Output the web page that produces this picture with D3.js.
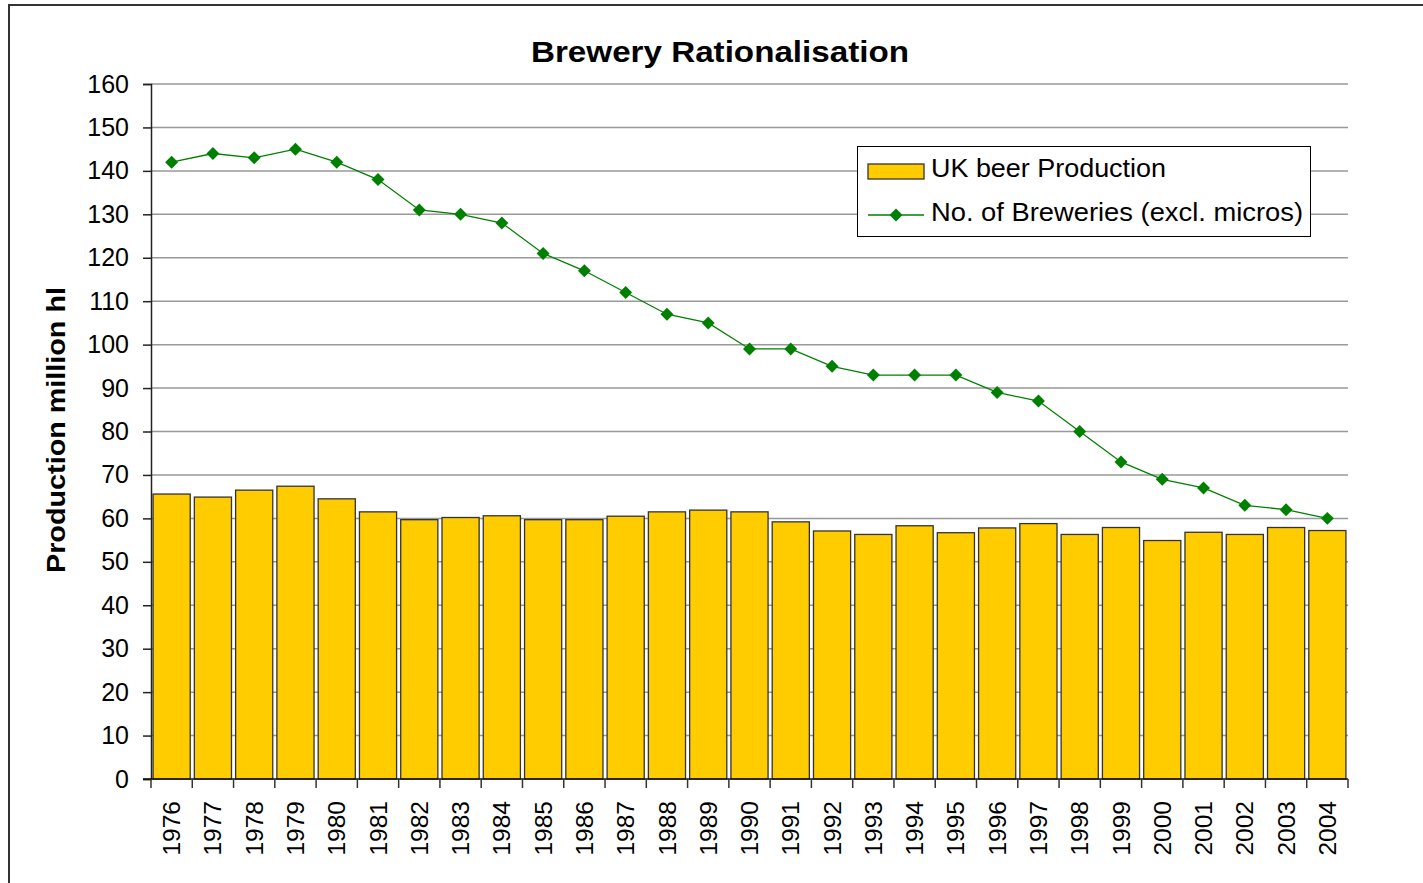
<!DOCTYPE html>
<html>
<head>
<meta charset="utf-8">
<script src="https://cdn.jsdelivr.net/npm/d3@7"></script>
<style>
  body { margin: 0; background: #fff; }
  svg { display: block; font-family: "Liberation Sans", Arial, sans-serif; }
</style>
</head>
<body>
<div id="chart"></div>
<script>
const years = ["1976","1977","1978","1979","1980","1981","1982","1983","1984","1985","1986","1987","1988","1989","1990",
  "1991","1992","1993","1994","1995","1996","1997","1998","1999","2000","2001","2002","2003","2004"];
const production = [65.6,64.9,66.5,67.4,64.5,61.5,59.7,60.2,60.6,59.7,59.7,60.5,61.5,61.9,61.5,
  59.2,57.1,56.3,58.3,56.7,57.8,58.8,56.3,57.9,54.9,56.8,56.3,57.9,57.2];
const breweries = [142,144,143,145,142,138,131,130,128,121,117,112,107,105,99,
  99,95,93,93,93,89,87,80,73,69,67,63,62,60];
const yTicks = d3.range(0, 161, 10);

const w = 1423, h = 883;
const plotLeft = 151, plotRight = 1348, plotTop = 84, plotBottom = 779;

const svg = d3.select("#chart").append("svg")
  .attr("width", w)
  .attr("height", h);

// outer chart border (runs off right/bottom edge)
svg.append("rect")
  .attr("x", 9).attr("y", 5)
  .attr("width", w + 20).attr("height", h + 20)
  .attr("fill", "none")
  .attr("stroke", "#333")
  .attr("stroke-width", 2);

const x = d3.scaleBand()
  .domain(years)
  .range([plotLeft, plotRight])
  .paddingInner(0.1)
  .paddingOuter(0.05);

const y = d3.scaleLinear()
  .domain([0, 160])
  .range([plotBottom, plotTop]);

// gridlines
svg.append("g")
  .selectAll("line")
  .data(yTicks.filter(d => d > 0))
  .enter()
  .append("line")
  .attr("x1", plotLeft).attr("x2", plotRight)
  .attr("y1", d => y(d)).attr("y2", d => y(d))
  .attr("stroke", "#999")
  .attr("stroke-width", 1.5);

// bars
svg.append("g")
  .selectAll("rect")
  .data(production)
  .enter()
  .append("rect")
  .attr("x", (d, i) => x(years[i]))
  .attr("y", d => y(d))
  .attr("width", x.bandwidth())
  .attr("height", d => y(0) - y(d))
  .attr("fill", "#FFCC00")
  .attr("stroke", "#333")
  .attr("stroke-width", 1.3);

// y axis
const yAxis = svg.append("g")
  .attr("transform", `translate(${plotLeft},0)`)
  .call(d3.axisLeft(y).tickValues(yTicks).tickSize(8).tickPadding(14));
yAxis.select(".domain").attr("stroke", "#222").attr("stroke-width", 1.5);
yAxis.selectAll(".tick line").attr("stroke", "#222").attr("stroke-width", 1.5);
yAxis.selectAll("text")
  .attr("font-size", 25)
  .attr("font-family", "Liberation Sans, Arial, sans-serif")
  .attr("fill", "#000");

// x axis with ticks on category boundaries
const step = x.step();
const boundaries = years.map((yr, i) => plotLeft + i * step).concat([plotRight]);
svg.append("line")
  .attr("x1", plotLeft - 8).attr("x2", plotRight)
  .attr("y1", plotBottom).attr("y2", plotBottom)
  .attr("stroke", "#111")
  .attr("stroke-width", 1.5);
svg.append("g")
  .selectAll("line")
  .data(boundaries)
  .enter()
  .append("line")
  .attr("x1", d => d).attr("x2", d => d)
  .attr("y1", plotBottom).attr("y2", plotBottom + 9)
  .attr("stroke", "#333")
  .attr("stroke-width", 1.5);

svg.append("g")
  .selectAll("text")
  .data(years)
  .enter()
  .append("text")
  .attr("transform", d => `translate(${x(d) + x.bandwidth() / 2},801) rotate(-90)`)
  .attr("text-anchor", "end")
  .attr("dy", "0.35em")
  .attr("font-size", 24.5)
  .attr("fill", "#000")
  .text(d => d);

// breweries line
const line = d3.line()
  .x((d, i) => x(years[i]) + x.bandwidth() / 2)
  .y(d => y(d));

svg.append("path")
  .datum(breweries)
  .attr("d", line)
  .attr("fill", "none")
  .attr("stroke", "#008000")
  .attr("stroke-width", 1.3);

const diamond = d3.symbol().type(d3.symbolSquare).size(84);
svg.append("g")
  .selectAll("path")
  .data(breweries)
  .enter()
  .append("path")
  .attr("d", diamond)
  .attr("transform", (d, i) => `translate(${x(years[i]) + x.bandwidth() / 2},${y(d)}) rotate(45)`)
  .attr("fill", "#008000");

// title
svg.append("text")
  .attr("x", 720).attr("y", 62)
  .attr("text-anchor", "middle")
  .attr("font-size", 29)
  .attr("font-weight", "bold")
  .attr("textLength", 378)
  .attr("lengthAdjust", "spacingAndGlyphs")
  .text("Brewery Rationalisation");

// y axis title
svg.append("text")
  .attr("transform", "translate(65,430) rotate(-90)")
  .attr("text-anchor", "middle")
  .attr("font-size", 25)
  .attr("font-weight", "bold")
  .attr("textLength", 286)
  .attr("lengthAdjust", "spacingAndGlyphs")
  .text("Production million hl");

// legend
const legend = svg.append("g");
legend.append("rect")
  .attr("x", 857.5).attr("y", 146.5)
  .attr("width", 453).attr("height", 90)
  .attr("fill", "#fff")
  .attr("stroke", "#000")
  .attr("stroke-width", 1);
legend.append("rect")
  .attr("x", 868).attr("y", 164)
  .attr("width", 56).attr("height", 15)
  .attr("fill", "#FFCC00")
  .attr("stroke", "#333")
  .attr("stroke-width", 1.3);
legend.append("text")
  .attr("x", 931).attr("y", 177)
  .attr("font-size", 26)
  .attr("textLength", 235)
  .attr("lengthAdjust", "spacingAndGlyphs")
  .text("UK beer Production");
legend.append("line")
  .attr("x1", 868).attr("x2", 924)
  .attr("y1", 215).attr("y2", 215)
  .attr("stroke", "#008000")
  .attr("stroke-width", 1.3);
legend.append("path")
  .attr("d", diamond)
  .attr("transform", "translate(896,215) rotate(45)")
  .attr("fill", "#008000");
legend.append("text")
  .attr("x", 931).attr("y", 221)
  .attr("font-size", 26)
  .attr("textLength", 372)
  .attr("lengthAdjust", "spacingAndGlyphs")
  .text("No. of Breweries (excl. micros)");
</script>
</body>
</html>
